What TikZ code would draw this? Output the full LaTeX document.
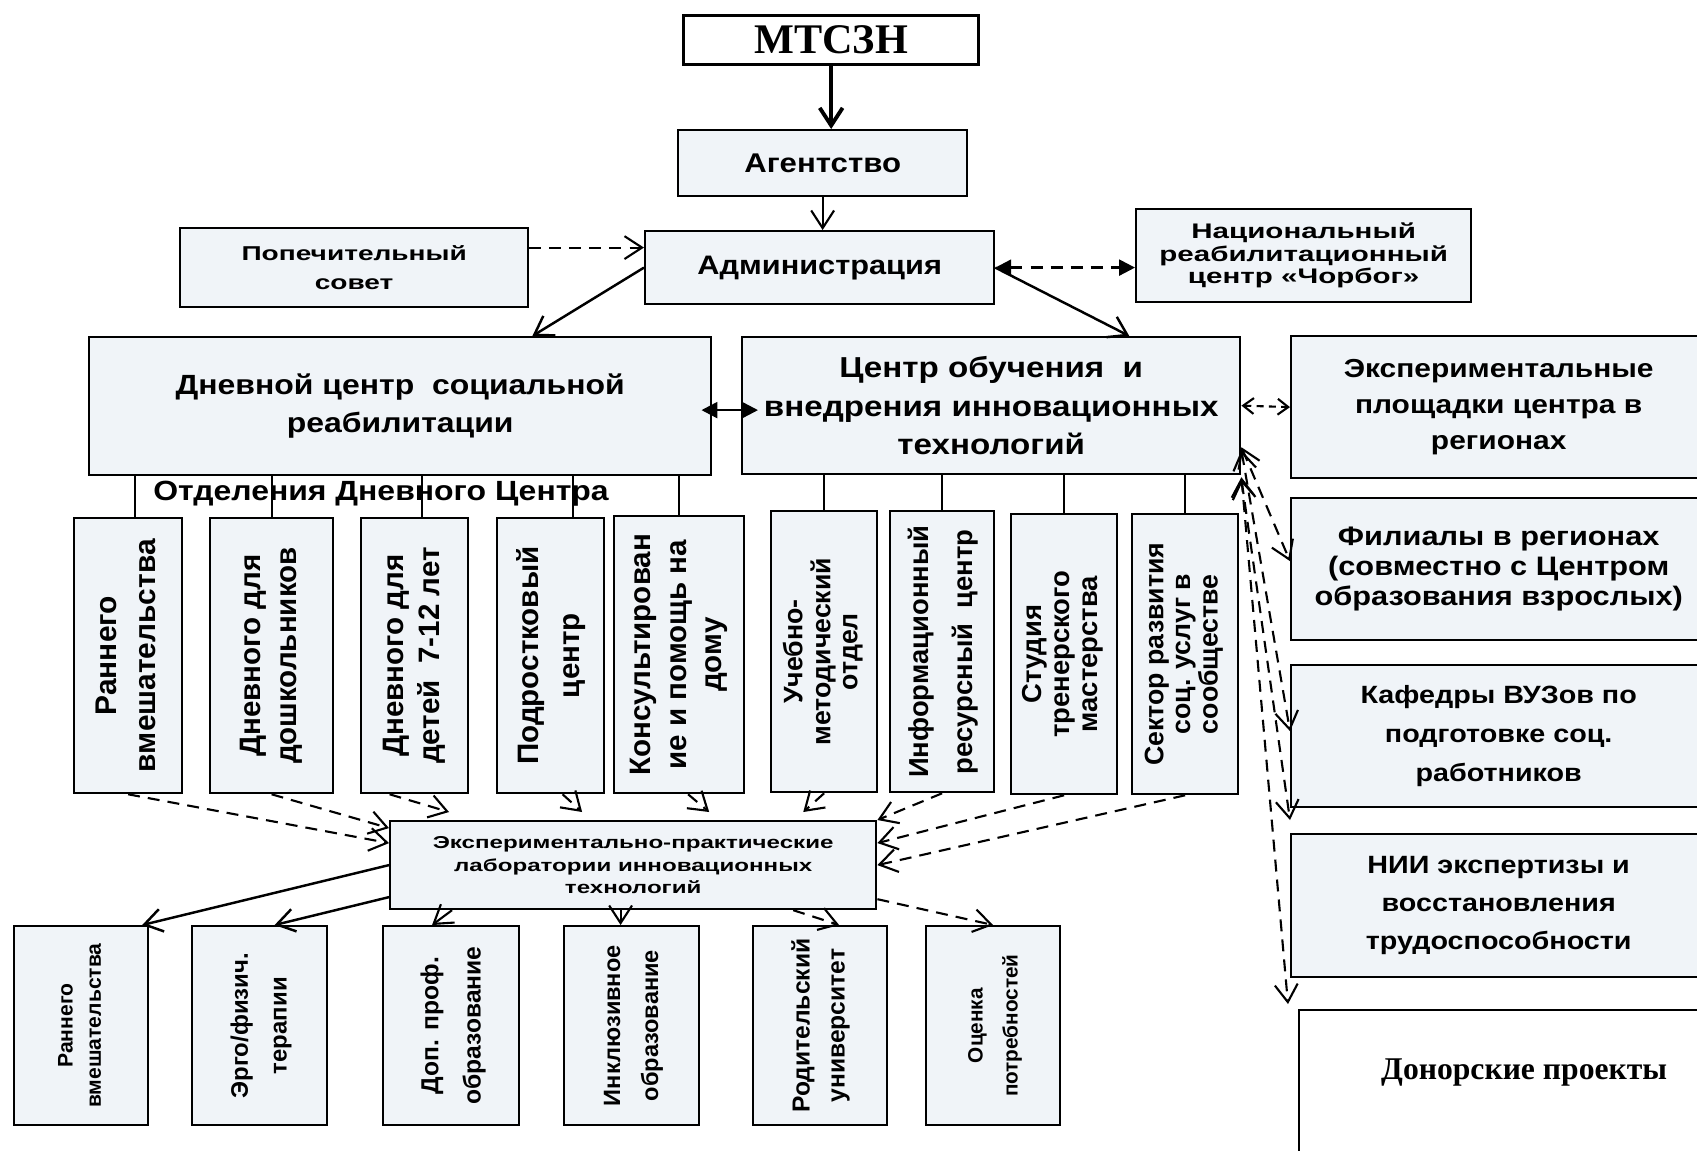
\documentclass[tikz,border=0pt]{standalone}
\usepackage{fontspec}
\setmainfont{Liberation Sans}
\newfontfamily\serifbf{Liberation Serif}
\newfontfamily\widesf[FakeStretch=1.4]{Liberation Sans}
\newfontfamily\midsf[FakeStretch=1.15]{Liberation Sans}
\usepackage{graphicx}
\usetikzlibrary{arrows.meta}
\definecolor{BoxFill}{RGB}{240,244,248}
\newcommand{\vlines}[3]{\rotatebox{90}{\fontsize{#1}{#2}\selectfont\bfseries\begin{tabular}{@{}c@{}}#3\end{tabular}}}

\tikzset{
  Vtip/.tip={Straight Barb[length=5pt,width=6.5pt]},
  Stip/.tip={Straight Barb[length=3pt,width=4.5pt]},
  Ftip/.tip={Triangle[length=4.5pt,width=4.5pt]},
  box/.style={draw, line width=0.6pt, fill=BoxFill, inner sep=0pt, anchor=north west, align=center},
  sz/.style 2 args={minimum width=#1, minimum height=#2},
  hf/.style 2 args={font=\midsf\bfseries\fontsize{#1}{#2}\selectfont},
  wf/.style 2 args={font=\widesf\bfseries\fontsize{#1}{#2}\selectfont},
  arr/.style={-Vtip, line width=0.6pt},
  darr/.style={arr, dash pattern=on 3.4pt off 2.3pt},
  ddbl/.style={Vtip-Vtip, line width=0.6pt, dash pattern=on 3.4pt off 2.3pt},
  fdbl/.style={Ftip-Ftip, line width=0.7pt},
  sdbl/.style={Stip-Stip, line width=0.6pt, dash pattern=on 2pt off 1.5pt}
}

\begin{document}
\begin{tikzpicture}[x=0.01cm, y=-0.01cm]
\useasboundingbox (0,0) rectangle (1697,1150);
\clip (0,0) rectangle (1697,1150);

\node[box, fill=white, line width=0.9pt, sz={2.95cm}{0.49cm}, font=\serifbf\bfseries\fontsize{12pt}{14pt}\selectfont] (mtszn) at (682,14) {МТСЗН};
\node[box, sz={2.89cm}{0.66cm}, hf={7.7pt}{9pt}] (agency) at (677,129) {Агентство};
\node[box, sz={3.48cm}{0.79cm}, wf={5.7pt}{8pt}] (trust) at (179,227) {Попечительный\\совет};
\node[box, sz={3.49cm}{0.73cm}, hf={7.6pt}{9pt}] (admin) at (644,230) {Администрация};
\node[box, sz={3.35cm}{0.93cm}, wf={6pt}{6.4pt}] (natl) at (1135,208) {Национальный\\реабилитационный\\центр «Чорбог»};

\node[box, sz={6.22cm}{1.38cm}, hf={7.9pt}{10.8pt}] (day) at (88,336) {Дневной центр\ \ социальной\\реабилитации};
\node[box, sz={4.98cm}{1.37cm}, hf={8.2pt}{11pt}] (train) at (741,336) {Центр обучения\ \ и\\внедрения инновационных\\технологий};
\node[box, sz={4.15cm}{1.42cm}, hf={7.4pt}{10.2pt}] (exps) at (1290,335) {Экспериментальные\\площадки центра в\\регионах};
\node[box, sz={4.15cm}{1.42cm}, hf={7.6pt}{8.5pt}] (branch) at (1290,497) {Филиалы в регионах\\(совместно с Центром\\образования взрослых)};
\node[box, sz={4.15cm}{1.42cm}, hf={7.1pt}{11pt}] (chair) at (1290,664) {Кафедры ВУЗов по\\подготовке соц.\\работников};
\node[box, sz={4.15cm}{1.43cm}, hf={7.1pt}{10.8pt}] (nii) at (1290,833) {НИИ экспертизы и\\восстановления\\трудоспособности};
\node[box, fill=white, sz={4.5cm}{1.6cm}, label={[anchor=center, yshift=-0.63cm, font=\serifbf\bfseries\fontsize{9pt}{11pt}\selectfont]north:Донорские проекты}] (donor) at (1298,1009) {};

\node[hf={7.9pt}{9pt}] (deps) at (381,494) {Отделения Дневного Центра};

\node[box, sz={1.08cm}{2.75cm}] (d1) at (73,517) {\vlines{8.5pt}{11pt}{Раннего\\вмешательства}};
\node[box, sz={1.23cm}{2.75cm}] (d2) at (209,517) {\vlines{8.4pt}{10.2pt}{Дневного для\\дошкольников}};
\node[box, sz={1.07cm}{2.75cm}] (d3) at (360,517) {\vlines{8.4pt}{10.2pt}{Дневного для\\детей\ \ 7-12 лет}};
\node[box, sz={1.07cm}{2.75cm}] (d4) at (496,517) {\vlines{8.4pt}{11.6pt}{Подростковый\\центр}};
\node[box, sz={1.30cm}{2.77cm}] (d5) at (613,515) {\vlines{8.4pt}{10pt}{Консультирован\\ие и помощь на\\дому}};

\node[box, sz={1.06cm}{2.81cm}] (t1) at (770,510) {\vlines{7.6pt}{7.7pt}{Учебно-\\методический\\отдел}};
\node[box, sz={1.04cm}{2.81cm}] (t2) at (889,510) {\vlines{7.8pt}{12.5pt}{Информационный\\ресурсный\ \ центр}};
\node[box, sz={1.06cm}{2.80cm}] (t3) at (1010,513) {\vlines{7.8pt}{8pt}{Студия\\тренерского\\мастерства}};
\node[box, sz={1.06cm}{2.80cm}] (t4) at (1131,513) {\vlines{7.6pt}{7.6pt}{Сектор развития\\соц. услуг в\\сообществе}};

\node[box, sz={4.86cm}{0.88cm}, wf={4.9pt}{6.5pt}] (lab) at (389,820) {Экспериментально-практические\\лаборатории инновационных\\технологий};

\node[box, sz={1.34cm}{1.99cm}] (b1) at (13,925) {\vlines{6pt}{8pt}{Раннего\\вмешательства}};
\node[box, sz={1.35cm}{1.99cm}] (b2) at (191,925) {\vlines{6.8pt}{11pt}{Эрго/физич.\\терапии}};
\node[box, sz={1.36cm}{1.99cm}] (b3) at (382,925) {\vlines{7pt}{12pt}{Доп. проф.\\образование}};
\node[box, sz={1.35cm}{1.99cm}] (b4) at (563,925) {\vlines{6.7pt}{10.8pt}{Инклюзивное\\образование}};
\node[box, sz={1.34cm}{1.99cm}] (b5) at (752,925) {\vlines{7pt}{10pt}{Родительский\\университет}};
\node[box, sz={1.34cm}{1.99cm}] (b6) at (925,925) {\vlines{5.9pt}{10pt}{Оценка\\потребностей}};

\draw[arr, line width=1.1pt] (mtszn.south) -- (mtszn.south |- agency.north);
\draw[arr] (agency.south) -- (agency.south |- admin.north);
\draw[darr] ([yshift=0.2cm]trust.east) -- ([yshift=0.2cm]trust.east -| admin.west);
\draw[fdbl, dash pattern=on 3.4pt off 2.3pt] (admin.east) -- (admin.east -| natl.west);
\draw[arr, line width=0.7pt] (admin.west) -- ([xshift=-1.8cm]day.north east);
\draw[arr, line width=0.7pt] (admin.east) -- ([xshift=1.38cm]train.north);
\draw[fdbl] ([xshift=-0.11cm,yshift=-0.04cm]day.east) -- ([xshift=0.17cm,yshift=-0.04cm]day.east -| train.west);
\draw[sdbl] (train.east) -- (exps.west);

\draw[ddbl] ([yshift=0.28cm]train.south east) -- ([yshift=0.08cm]branch.west);
\draw[ddbl] ([yshift=0.25cm]train.south east) -- ([yshift=0.05cm]chair.west);
\draw[ddbl] ([yshift=-0.04cm]train.south east) -- ([yshift=0.13cm]nii.north west);
\draw[ddbl] ([yshift=-0.02cm]train.south east) -- ([xshift=-0.1cm,yshift=0.05cm]donor.north west);

\foreach \b/\s in {d1/0.07, d2/0, d3/0.07, d4/0.22, d5/0}
  \draw[line width=0.6pt] ([xshift=\s cm]\b.north) -- ([xshift=\s cm]\b.north |- day.south);
\foreach \b in {t1,t2,t3,t4}
  \draw[line width=0.6pt] (\b.north) -- (\b.north |- train.south);

\draw[darr] (d1.south) -- ([yshift=0.22cm]lab.west);
\draw[darr] (d2.south) -- ([yshift=0.37cm]lab.west);
\draw[darr] ([xshift=-0.25cm]d3.south) -- ([xshift=0.6cm,yshift=0.08cm]lab.north west);
\draw[darr] ([xshift=0.12cm]d4.south) -- ([xshift=1.93cm,yshift=0.08cm]lab.north west);
\draw[darr] ([xshift=0.09cm]d5.south) -- ([xshift=3.2cm,yshift=0.08cm]lab.north west);
\draw[darr] (t1.south) -- ([xshift=4.14cm,yshift=0.08cm]lab.north west);
\draw[darr] (t2.south) -- (lab.north east);
\draw[darr] (t3.south) -- ([yshift=0.22cm]lab.east);
\draw[darr] (t4.south) -- (lab.east);

\draw[arr, line width=0.7pt] (lab.west) -- ([xshift=-0.07cm]b1.north east);
\draw[arr, line width=0.7pt] ([yshift=-0.32cm]lab.west) -- ([xshift=0.15cm]b2.north);
\draw[arr] ([xshift=0.63cm]lab.south west) -- ([xshift=-0.19cm]b3.north);
\draw[arr] ([xshift=-0.11cm]b4.north |- lab.south) -- ([xshift=-0.11cm]b4.north);
\draw[darr] ([xshift=4.04cm]lab.south west) -- ([xshift=0.19cm]b5.north);
\draw[darr] ([yshift=0.11cm]lab.south east) -- (b6.north);

\end{tikzpicture}
\end{document}
